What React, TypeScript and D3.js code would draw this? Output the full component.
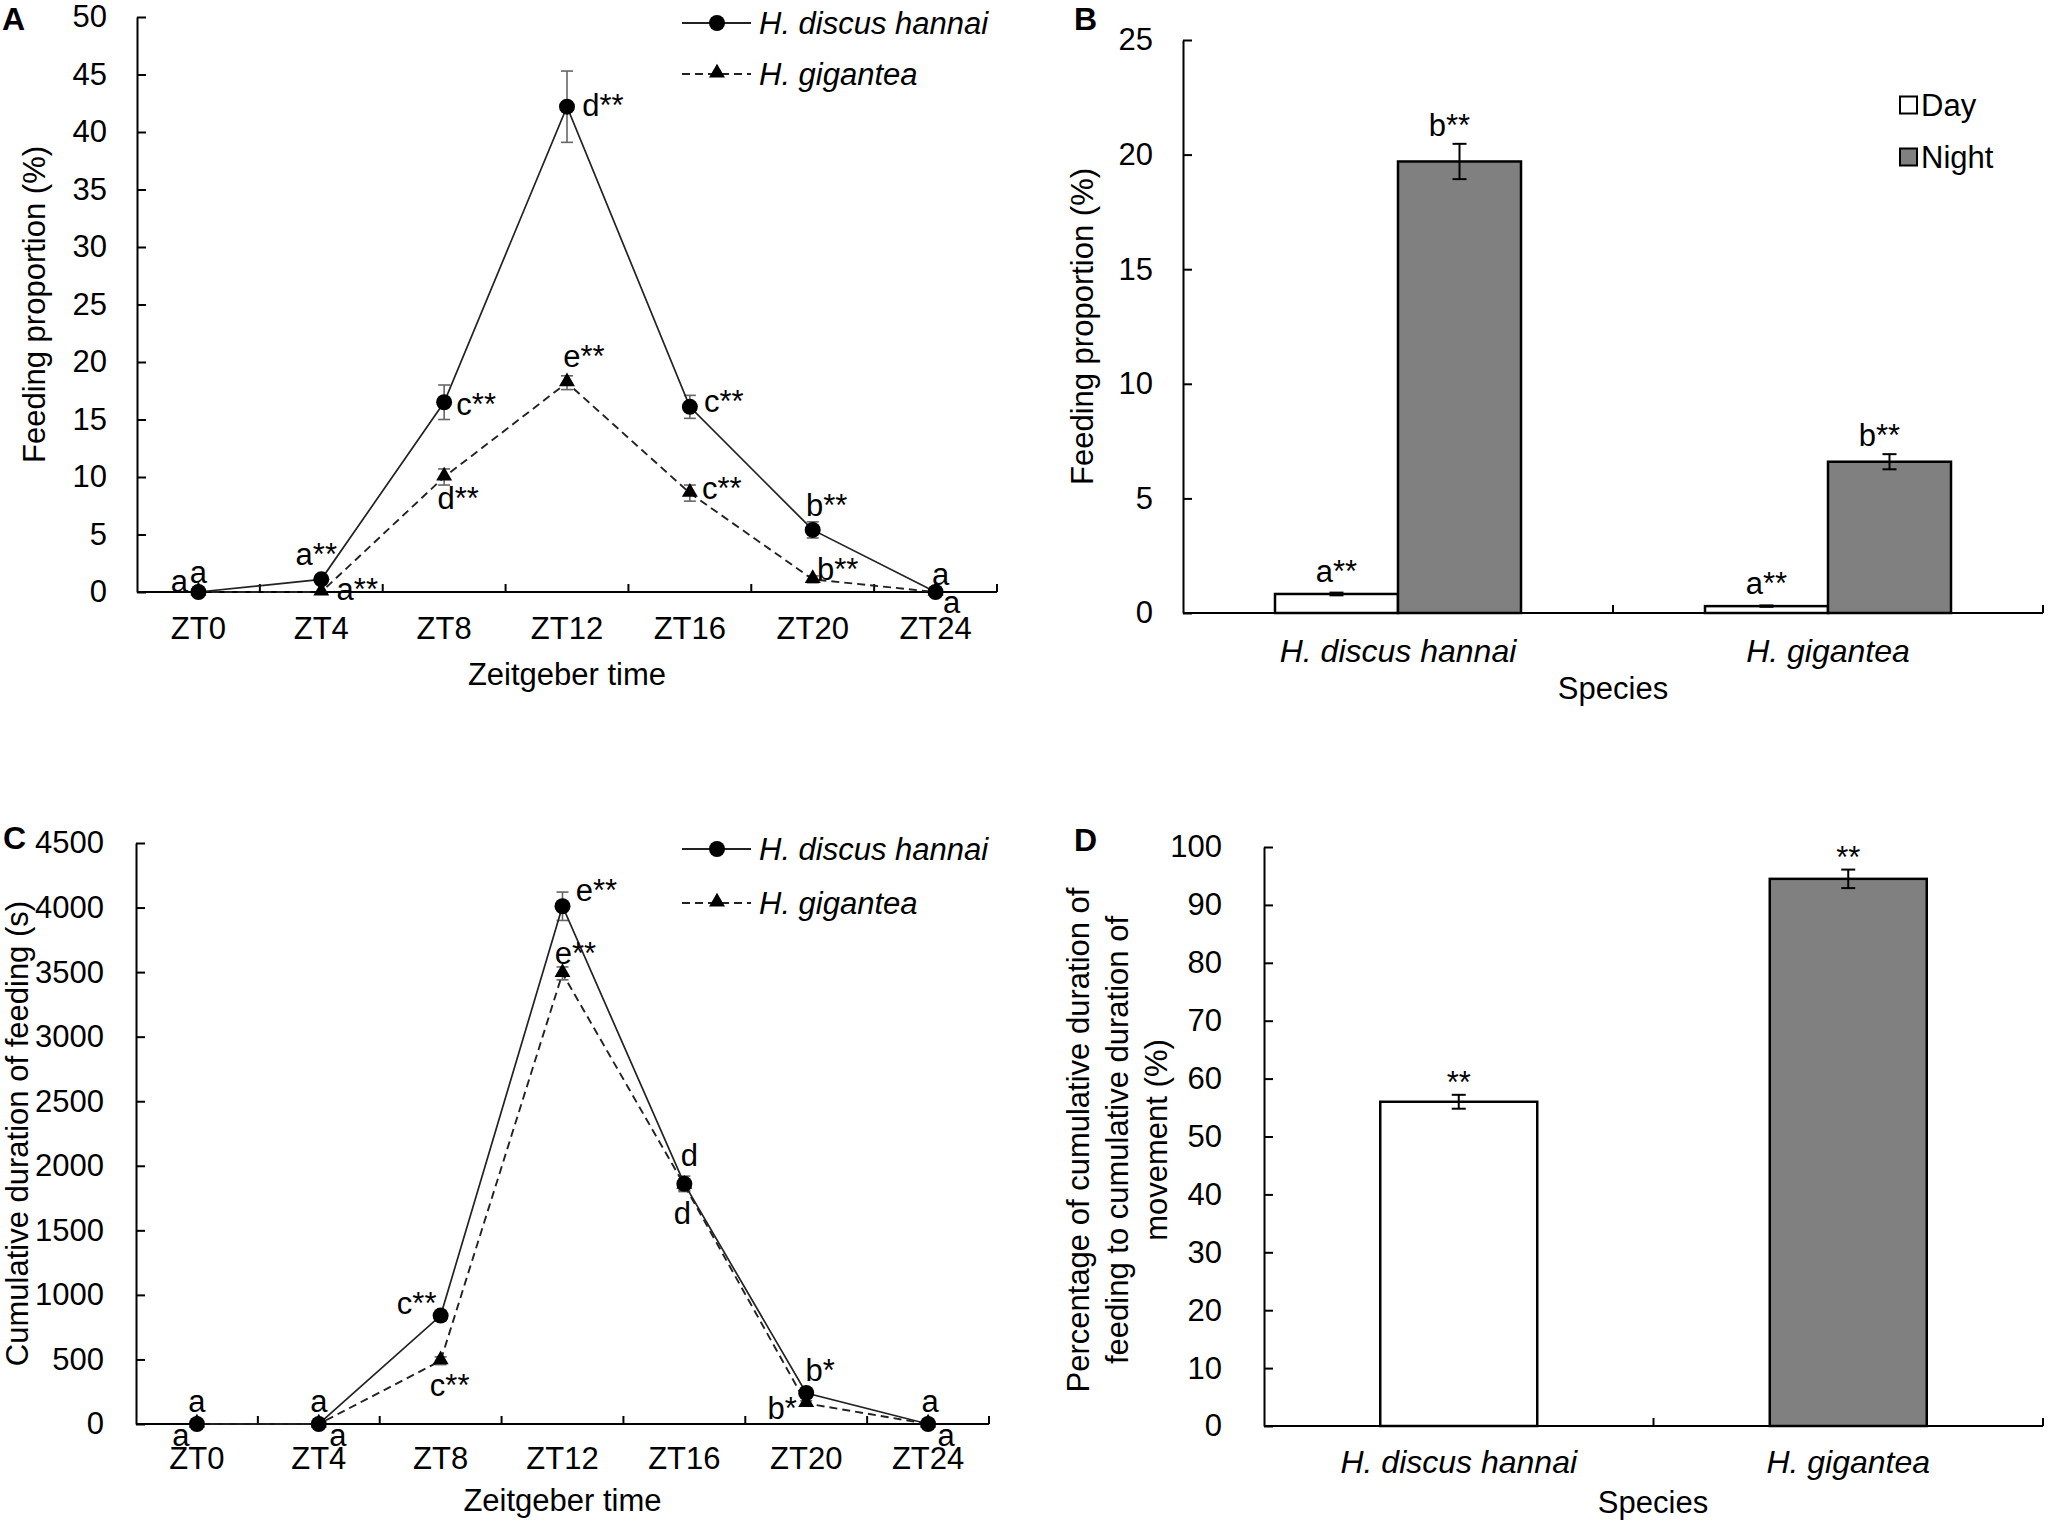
import React, { useEffect, useRef } from "react";
import * as d3 from "d3";

// Zeitgeber time categories (panels A and C)
const zeitgeber = ["ZT0", "ZT4", "ZT8", "ZT12", "ZT16", "ZT20", "ZT24"];
const seriesNames = ["H. discus hannai", "H. gigantea"];

// Panel A: feeding proportion (%)
const hdFeeding = [0, 1.1, 16.5, 42.2, 16.1, 5.4, 0];
const hdFeedingErr = [0, 0.3, 1.5, 3.1, 1.0, 0.7, 0];
const hgFeeding = [0, 0, 10.0, 18.2, 8.6, 1.1, 0];
const hgFeedingErr = [0, 0, 0.7, 0.6, 0.7, 0.3, 0];
const hdFeedingLetters = ["a", "a**", "c**", "d**", "c**", "b**", "a"];
const hgFeedingLetters = ["a", "a**", "d**", "e**", "c**", "b**", "a"];
const feedingTicks = [0, 5, 10, 15, 20, 25, 30, 35, 40, 45, 50];

// Panel C: cumulative duration of feeding (s)
const hdDuration = [0, 0, 840, 4010, 1860, 240, 0];
const hdDurationErr = [0, 0, 40, 110, 60, 30, 0];
const hgDuration = [0, 0, 490, 3490, 1850, 160, 0];
const hgDurationErr = [0, 0, 30, 50, 40, 20, 0];
const hdDurationLetters = ["a", "a", "c**", "e**", "d", "b*", "a"];
const hgDurationLetters = ["a", "a", "c**", "e**", "d", "b*", "a"];
const durationTicks = [0, 500, 1000, 1500, 2000, 2500, 3000, 3500, 4000, 4500];

// Panel B: day / night feeding proportion
const species = ["H. discus hannai", "H. gigantea"];
const periods = ["Day", "Night"];
const dayValues = [0.83, 0.3];
const nightValues = [19.7, 6.6];
const dayErr = [0.06, 0.03];
const nightErr = [0.77, 0.33];
const dayLetters = ["a**", "a**"];
const nightLetters = ["b**", "b**"];
const dayNightTicks = [0, 5, 10, 15, 20, 25];

// Panel D: share of feeding in movement (%)
const shareValues = [56.0, 94.5];
const shareErr = [1.2, 1.6];
const shareLetters = ["**", "**"];
const shareTicks = [0, 10, 20, 30, 40, 50, 60, 70, 80, 90, 100];

// label offsets from each point (dx to centre, dy to baseline), in px
const hdFeedingOffsets = [[0, -9], [-5, -14], [32, 13], [36, 9], [34, 5], [14, -14], [5, -7]];
const hgFeedingOffsets = [[-19, 0], [36, 8], [14, 32], [17, -16], [32, 6], [25, 1], [16, 21]];
const hdDurationOffsets = [[0, -12], [0, -12], [-24, -2], [34, -5], [5, -18], [14, -12], [2, -12]];
const hgDurationOffsets = [[-16, 22], [19, 22], [9, 35], [13, -9], [-2, 39], [-24, 16], [18, 22]];

const FONT = "Arial, 'Liberation Sans', Helvetica, sans-serif";
const FS = 31;

type Sel = d3.Selection<SVGGElement, unknown, null, undefined>;

function yAxis(g: Sel, y: d3.ScaleLinear<number, number>, x: number, ticks: number[], pad: number) {
  const ax = g
    .append("g")
    .attr("transform", `translate(${x},0)`)
    .call(
      d3.axisLeft(y).tickValues(ticks).tickFormat(d3.format("d") as any)
        .tickSizeInner(-9).tickSizeOuter(0).tickPadding(pad)
    );
  ax.attr("font-size", FS).attr("font-family", FONT);
  ax.selectAll("path, line").attr("stroke", "#000").attr("stroke-width", 2);
  ax.selectAll("text").attr("fill", "#000");
}

function xBaseline(g: Sel, x: d3.ScaleBand<string>, y0: number) {
  const [a, b] = x.range();
  g.append("line").attr("x1", a).attr("x2", b).attr("y1", y0).attr("y2", y0)
    .attr("stroke", "#000").attr("stroke-width", 2);
  const bounds = x.domain().map((d) => (x(d) as number) + x.bandwidth());
  g.selectAll(null).data(bounds).enter().append("line")
    .attr("x1", (d) => d).attr("x2", (d) => d)
    .attr("y1", y0).attr("y2", y0 - 8)
    .attr("stroke", "#000").attr("stroke-width", 2);
}

function text(g: Sel, x: number, y: number, s: string, opts: any = {}) {
  const t = g.append("text")
    .attr("x", x).attr("y", y)
    .attr("font-family", FONT)
    .attr("font-size", opts.size || FS)
    .attr("text-anchor", opts.anchor || "middle")
    .attr("fill", "#000")
    .text(s);
  if (opts.italic) t.attr("font-style", "italic");
  if (opts.bold) t.attr("font-weight", "bold");
  if (opts.rotate) {
    t.attr("x", 0).attr("y", 0)
      .attr("dominant-baseline", "middle")
      .attr("transform", `translate(${x},${y}) rotate(-90)`);
  }
  return t;
}

function errorBar(g: Sel, cx: number, yTop: number, yBot: number, color: string, w: number, cap: number) {
  if (Math.abs(yBot - yTop) < 0.5) return;
  g.append("line").attr("x1", cx).attr("x2", cx).attr("y1", yTop).attr("y2", yBot)
    .attr("stroke", color).attr("stroke-width", w);
  [yTop, yBot].forEach((yy) =>
    g.append("line").attr("x1", cx - cap / 2).attr("x2", cx + cap / 2).attr("y1", yy).attr("y2", yy)
      .attr("stroke", color).attr("stroke-width", w)
  );
}

const triangle = d3.symbol().type(d3.symbolTriangle).size(110);

function linePanel(
  svg: Sel,
  cfg: {
    letter: string; letterPos: [number, number];
    x0: number; x1: number; y0: number; yTop: number; max: number; ticks: number[]; pad: number;
    yTitle: string; yTitleX: number; tickBase: number; titleBase: number;
    hd: number[]; hdErr: number[]; hg: number[]; hgErr: number[];
    hdLab: string[]; hgLab: string[]; hdOff: number[][]; hgOff: number[][];
    legendY: [number, number];
  }
) {
  const g = svg.append("g");
  const x = d3.scaleBand().domain(zeitgeber).range([cfg.x0, cfg.x1]).padding(0);
  const y = d3.scaleLinear().domain([0, cfg.max]).range([cfg.y0, cfg.yTop]);
  const cx = (d: string) => (x(d) as number) + x.bandwidth() / 2;

  yAxis(g, y, cfg.x0, cfg.ticks, cfg.pad);
  xBaseline(g, x, cfg.y0);
  zeitgeber.forEach((d) => text(g, cx(d), cfg.tickBase, d));
  text(g, (cfg.x0 + cfg.x1) / 2, cfg.titleBase, "Zeitgeber time");
  text(g, cfg.yTitleX, (cfg.y0 + cfg.yTop) / 2, cfg.yTitle, { rotate: true });
  text(g, cfg.letterPos[0], cfg.letterPos[1], cfg.letter, { bold: true, size: 32, anchor: "start" });

  const line = d3.line<number>().x((_, i) => cx(zeitgeber[i])).y((v) => y(v));

  // error bars
  cfg.hg.forEach((v, i) => errorBar(g, cx(zeitgeber[i]), y(v + cfg.hgErr[i]), y(v - cfg.hgErr[i]), "#666", 1.6, 12));
  cfg.hd.forEach((v, i) => errorBar(g, cx(zeitgeber[i]), y(v + cfg.hdErr[i]), y(v - cfg.hdErr[i]), "#666", 1.6, 12));

  g.append("path").datum(cfg.hg).attr("d", line).attr("fill", "none")
    .attr("stroke", "#222").attr("stroke-width", 1.9).attr("stroke-dasharray", "8,5");
  g.append("path").datum(cfg.hd).attr("d", line).attr("fill", "none")
    .attr("stroke", "#222").attr("stroke-width", 1.7);

  g.selectAll(null).data(cfg.hg).enter().append("path")
    .attr("d", triangle as any)
    .attr("transform", (v, i) => `translate(${cx(zeitgeber[i])},${y(v) - 1})`)
    .attr("fill", "#000");
  g.selectAll(null).data(cfg.hd).enter().append("circle")
    .attr("cx", (_, i) => cx(zeitgeber[i])).attr("cy", (v) => y(v)).attr("r", 8)
    .attr("fill", "#000");

  cfg.hd.forEach((v, i) => text(g, cx(zeitgeber[i]) + cfg.hdOff[i][0], y(v) + cfg.hdOff[i][1], cfg.hdLab[i]));
  cfg.hg.forEach((v, i) => text(g, cx(zeitgeber[i]) + cfg.hgOff[i][0], y(v) + cfg.hgOff[i][1], cfg.hgLab[i]));

  // legend
  const lx0 = 682, lx1 = 751, lm = 717;
  const [ly1, ly2] = cfg.legendY;
  g.append("line").attr("x1", lx0).attr("x2", lx1).attr("y1", ly1).attr("y2", ly1)
    .attr("stroke", "#222").attr("stroke-width", 1.9);
  g.append("circle").attr("cx", lm).attr("cy", ly1).attr("r", 8).attr("fill", "#000");
  g.append("line").attr("x1", lx0).attr("x2", lx1).attr("y1", ly2).attr("y2", ly2)
    .attr("stroke", "#222").attr("stroke-width", 1.9).attr("stroke-dasharray", "8,5");
  g.append("path").attr("d", triangle as any).attr("transform", `translate(${lm},${ly2 - 1})`).attr("fill", "#000");
  text(g, 759, ly1 + 11, seriesNames[0], { italic: true, anchor: "start" });
  text(g, 759, ly2 + 11, seriesNames[1], { italic: true, anchor: "start" });
}

export default function App() {
  const ref = useRef<SVGSVGElement>(null);

  useEffect(() => {
    if (!ref.current) return;
    const root = d3.select(ref.current);
    root.selectAll("*").remove();
    const svg = root.append("g") as Sel;

    // ---------- A ----------
    linePanel(svg, {
      letter: "A", letterPos: [2, 30],
      x0: 137, x1: 997, y0: 592, yTop: 17, max: 50, ticks: feedingTicks, pad: 30,
      yTitle: "Feeding proportion (%)", yTitleX: 37, tickBase: 639, titleBase: 685,
      hd: hdFeeding, hdErr: hdFeedingErr, hg: hgFeeding, hgErr: hgFeedingErr,
      hdLab: hdFeedingLetters, hgLab: hgFeedingLetters, hdOff: hdFeedingOffsets, hgOff: hgFeedingOffsets,
      legendY: [23, 74],
    });

    // ---------- C ----------
    linePanel(svg, {
      letter: "C", letterPos: [3, 849],
      x0: 136, x1: 989, y0: 1424, yTop: 843, max: 4500, ticks: durationTicks, pad: 32,
      yTitle: "Cumulative duration of feeding (s)", yTitleX: 20, tickBase: 1469, titleBase: 1511,
      hd: hdDuration, hdErr: hdDurationErr, hg: hgDuration, hgErr: hgDurationErr,
      hdLab: hdDurationLetters, hgLab: hgDurationLetters, hdOff: hdDurationOffsets, hgOff: hgDurationOffsets,
      legendY: [849, 903],
    });

    // ---------- B ----------
    {
      const g = svg.append("g") as Sel;
      const x = d3.scaleBand().domain(species).range([1183, 2043]).padding(0);
      const y = d3.scaleLinear().domain([0, 25]).range([613, 40]);
      const barW = 123;
      yAxis(g, y, 1183, dayNightTicks, 30);
      xBaseline(g, x, 613);
      species.forEach((s, i) => {
        const c = (x(s) as number) + x.bandwidth() / 2;
        const inner = d3.scaleBand().domain(periods).range([c - barW, c + barW]);
        const vals = [dayValues[i], nightValues[i]];
        const errs = [dayErr[i], nightErr[i]];
        const labs = [dayLetters[i], nightLetters[i]];
        periods.forEach((p, j) => {
          const bx = inner(p) as number;
          g.append("rect").attr("x", bx).attr("y", y(vals[j]))
            .attr("width", inner.bandwidth()).attr("height", y(0) - y(vals[j]))
            .attr("fill", j === 0 ? "#fff" : "#808080")
            .attr("stroke", "#000").attr("stroke-width", 2.5);
          const bc = bx + inner.bandwidth() / 2;
          errorBar(g, bc, y(vals[j] + errs[j]), y(vals[j] - errs[j]), "#000", 2, 14);
          text(g, bc + (j === 0 ? 0 : -10), y(vals[j] + errs[j]) - (j === 0 ? 11 : 8), labs[j]);
        });
        text(g, c, 662, s, { italic: true, size: 32 });
      });
      text(g, 1613, 699, "Species");
      text(g, 1085, (613 + 40) / 2, "Feeding proportion (%)", { rotate: true });
      text(g, 1074, 30, "B", { bold: true, size: 32, anchor: "start" });
      // legend
      periods.forEach((p, j) => {
        const ly = 105 + j * 52;
        g.append("rect").attr("x", 1900).attr("y", ly - 8.5).attr("width", 17).attr("height", 17)
          .attr("fill", j === 0 ? "#fff" : "#808080").attr("stroke", "#000").attr("stroke-width", 2);
        text(g, 1921, ly + 11, p, { anchor: "start" });
      });
    }

    // ---------- D ----------
    {
      const g = svg.append("g") as Sel;
      const x = d3.scaleBand().domain(species).range([1264, 2043]).padding(0);
      const y = d3.scaleLinear().domain([0, 100]).range([1426, 847]);
      const barW = 157;
      yAxis(g, y, 1264, shareTicks, 42);
      xBaseline(g, x, 1426);
      species.forEach((s, i) => {
        const c = (x(s) as number) + x.bandwidth() / 2;
        g.append("rect").attr("x", c - barW / 2).attr("y", y(shareValues[i]))
          .attr("width", barW).attr("height", y(0) - y(shareValues[i]))
          .attr("fill", i === 0 ? "#fff" : "#808080")
          .attr("stroke", "#000").attr("stroke-width", 2.5);
        errorBar(g, c, y(shareValues[i] + shareErr[i]), y(shareValues[i] - shareErr[i]), "#000", 2, 14);
        text(g, c, y(shareValues[i] + shareErr[i]) - 2, shareLetters[i]);
        text(g, c, 1473, s, { italic: true, size: 32 });
      });
      text(g, 1653, 1513, "Species");
      const lines = [
        "Percentage of cumulative duration of",
        "feeding to cumulative duration of",
        "movement (%)",
      ];
      lines.forEach((l, k) => text(g, 1081 + k * 39, 1140, l, { rotate: true }));
      text(g, 1074, 851, "D", { bold: true, size: 32, anchor: "start" });
    }
  }, []);

  return (
    <svg
      ref={ref}
      width={2048}
      height={1523}
      style={{ position: "absolute", left: 0, top: 0, background: "#fff" }}
    />
  );
}
